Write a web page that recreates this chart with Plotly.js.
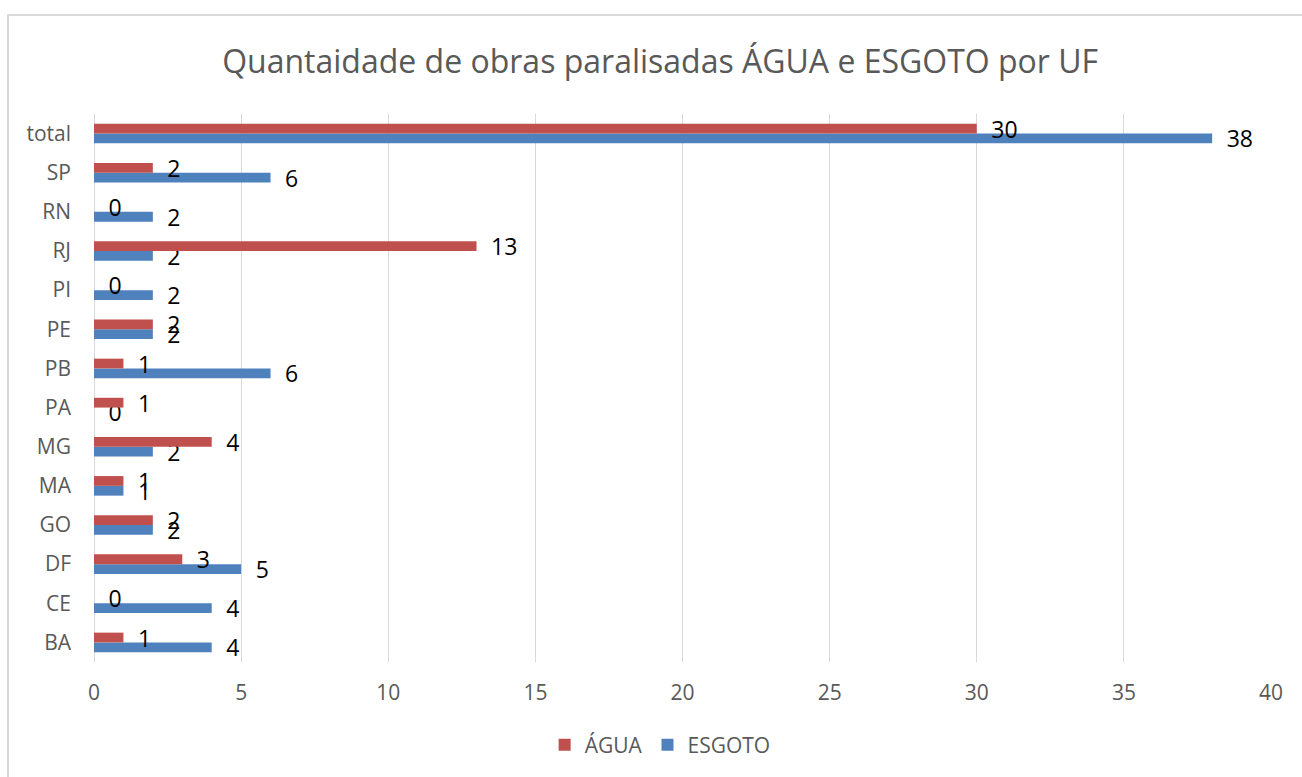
<!DOCTYPE html>
<html>
<head>
<meta charset="utf-8">
<script src="https://cdn.plot.ly/plotly-3.0.1.min.js"></script>
<style>
html,body{margin:0;padding:0;overflow:hidden;background:#fff;}
#chart{position:absolute;left:0;top:0;width:1302px;height:777px;}
#frame{position:absolute;left:7px;top:14px;width:1400px;height:900px;border:2px solid #d9d9d9;pointer-events:none;box-sizing:border-box;}
</style>
</head>
<body>
<div id="chart"></div>
<div id="frame"></div>
<script>
const categories = ['BA','CE','DF','GO','MA','MG','PA','PB','PE','PI','RJ','RN','SP','total'];
const agua =   [1, 0, 3, 2, 1, 4, 1, 1, 2, 0, 13, 0, 2, 30];
const esgoto = [4, 4, 5, 2, 1, 2, 0, 6, 2, 2, 2, 2, 6, 38];
const xTicks = [0, 5, 10, 15, 20, 25, 30, 35, 40];

const FONT = 'Open Sans, Liberation Sans, sans-serif';
const labelFont = {family: FONT, size: 23, color: '#000000'};

const traces = [
  {
    type: 'bar', orientation: 'h', name: 'ESGOTO',
    y: categories, x: esgoto,
    marker: {color: '#4F81BD'},
    text: esgoto.map(String),
    texttemplate: '\u2002%{text}',
    textposition: 'outside', cliponaxis: false, constraintext: 'none',
    textfont: labelFont, hoverinfo: 'x+y+name'
  },
  {
    type: 'bar', orientation: 'h', name: 'ÁGUA',
    y: categories, x: agua,
    marker: {color: '#C0504D'},
    text: agua.map(String),
    texttemplate: '\u2002%{text}',
    textposition: 'outside', cliponaxis: false, constraintext: 'none',
    textfont: labelFont, hoverinfo: 'x+y+name'
  }
];

const layout = {
  width: 1302, height: 777,
  margin: {l: 94, r: 31, t: 114, b: 115, autoexpand: false},
  paper_bgcolor: '#ffffff', plot_bgcolor: '#ffffff',
  font: {family: FONT, color: '#595959'},
  title: {
    text: 'Quantaidade de obras paralisadas ÁGUA e ESGOTO por UF',
    font: {family: FONT, size: 32, color: '#595959'},
    x: 0.507, xanchor: 'center', y: 0.92, yanchor: 'middle'
  },
  barmode: 'group', bargap: 0.5, bargroupgap: 0,
  xaxis: {
    range: [0, 40], tickvals: xTicks, ticktext: xTicks.map(String),
    showgrid: true, gridcolor: '#d9d9d9', gridwidth: 1,
    zeroline: true, zerolinecolor: '#d9d9d9', zerolinewidth: 1,
    showline: false, ticks: '', automargin: false,
    tickfont: {family: FONT, size: 21, color: '#595959'},
    ticklabelstandoff: 16, fixedrange: true
  },
  yaxis: {
    type: 'category', categoryorder: 'array', categoryarray: categories,
    showgrid: false, zeroline: false, showline: false, ticks: '', automargin: false,
    tickfont: {family: FONT, size: 21, color: '#595959'},
    ticklabelstandoff: 22, fixedrange: true
  },
  showlegend: true,
  legend: {
    orientation: 'h', traceorder: 'reversed',
    x: 0.481, xanchor: 'center', yref: 'container', y: 0.041, yanchor: 'middle',
    font: {family: FONT, size: 21, color: '#595959'}
  }
};

Plotly.newPlot('chart', traces, layout, {displayModeBar: false});
</script>
</body>
</html>
